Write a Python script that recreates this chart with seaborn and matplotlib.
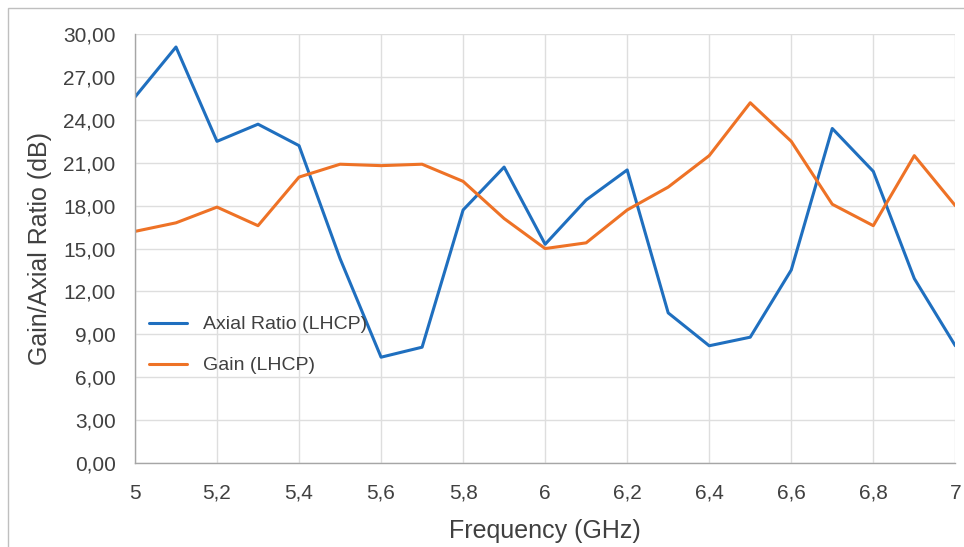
import matplotlib
matplotlib.use('Agg')
import matplotlib.pyplot as plt
import matplotlib.ticker as mticker
from matplotlib.patches import Rectangle
import seaborn as sns
import pandas as pd

frequency = [5.0, 5.1, 5.2, 5.3, 5.4, 5.5, 5.6, 5.7, 5.8, 5.9, 6.0,
             6.1, 6.2, 6.3, 6.4, 6.5, 6.6, 6.7, 6.8, 6.9, 7.0]
axial_ratio = [25.6, 29.1, 22.5, 23.7, 22.2, 14.3, 7.4, 8.1, 17.7, 20.7, 15.3,
               18.4, 20.5, 10.5, 8.2, 8.8, 13.5, 23.4, 20.4, 12.9, 8.2]
gain = [16.2, 16.8, 17.9, 16.6, 20.0, 20.9, 20.8, 20.9, 19.7, 17.1, 15.0,
        15.4, 17.7, 19.3, 21.5, 25.2, 22.5, 18.1, 16.6, 21.5, 18.0]
series_names = ['Axial Ratio (LHCP)', 'Gain (LHCP)']

df = pd.DataFrame({'Frequency': frequency * 2,
                   'Value': axial_ratio + gain,
                   'Series': [series_names[0]] * len(frequency) + [series_names[1]] * len(frequency)})

sns.set_style('white')
plt.rcParams['font.family'] = ['Liberation Sans', 'DejaVu Sans']
text_color = '#404040'

fig = plt.figure(figsize=(9.64, 5.47), dpi=100)
ax = fig.add_axes([0.140, 0.1536, 0.851, 0.784])

sns.lineplot(data=df, x='Frequency', y='Value', hue='Series',
             palette=['#1f6fbf', '#ee7226'], linewidth=2.2, ax=ax)

ax.set_xlim(5, 7)
ax.set_ylim(0, 30)
ax.xaxis.set_major_locator(mticker.MultipleLocator(0.2))
ax.yaxis.set_major_locator(mticker.MultipleLocator(3))
ax.xaxis.set_major_formatter(mticker.FuncFormatter(lambda v, p: f'{v:g}'.replace('.', ',')))
ax.yaxis.set_major_formatter(mticker.FuncFormatter(lambda v, p: f'{v:.2f}'.replace('.', ',')))
ax.grid(True, color='#dedede', linewidth=1.0)
ax.set_axisbelow(True)

for side in ['top', 'right']:
    ax.spines[side].set_visible(False)
for side in ['left', 'bottom']:
    ax.spines[side].set_color('#a6a6a6')
    ax.spines[side].set_linewidth(1.0)
ax.tick_params(axis='both', which='major', direction='out', length=5, width=1,
               color='#a6a6a6', labelsize=15, labelcolor=text_color)
ax.tick_params(axis='x', pad=10)
ax.tick_params(axis='y', pad=9)

ax.set_xlabel('Frequency (GHz)', fontsize=18, color=text_color, labelpad=12)
ax.set_ylabel('Gain/Axial Ratio (dB)', fontsize=18, color=text_color, labelpad=8)

leg = ax.legend(loc='center left', bbox_to_anchor=(0.0, 0.275), frameon=False,
                fontsize=14, labelspacing=1.2, handlelength=2.0, borderaxespad=0.3)
for t in leg.get_texts():
    t.set_color(text_color)

# light frame around the chart area
fig.patches.append(Rectangle((8 / 964, -0.1), 1.2, 1.1 - 8 / 547,
                             transform=fig.transFigure, fill=False,
                             edgecolor='#bfbfbf', linewidth=1.0))

fig.savefig('out.png', dpi=100)
plt.close(fig)
